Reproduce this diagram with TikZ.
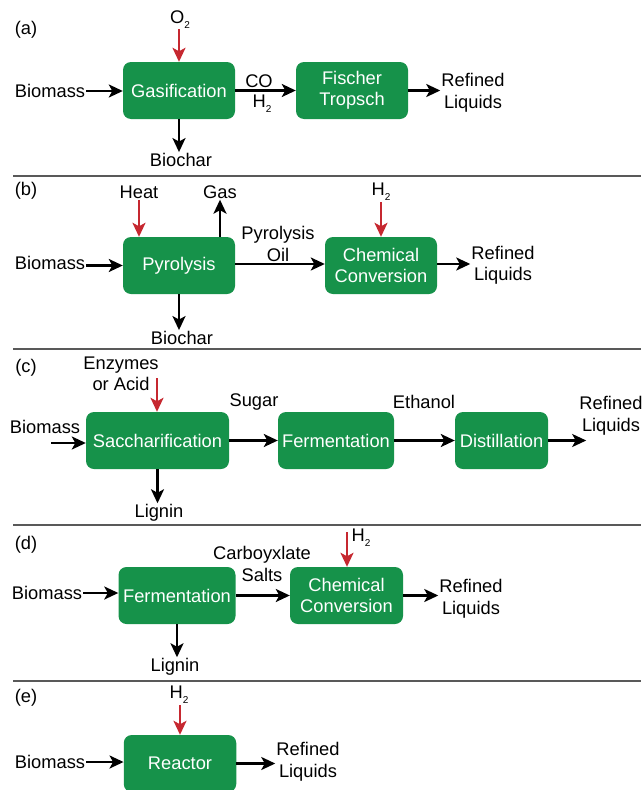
\documentclass[tikz,border=0pt]{standalone}
\usepackage{fontspec}
\setmainfont{Liberation Sans}
\usetikzlibrary{arrows.meta,positioning}

\definecolor{stagegreen}{RGB}{22,146,74}
\definecolor{feedred}{RGB}{198,40,48}
\newcommand{\subtwo}{\raisebox{-5pt}{\fontsize{10}{10}\selectfont 2}}

\begin{document}
\begin{tikzpicture}[
  x=1pt,y=-1pt,
  font=\fontsize{18.3}{21.5}\selectfont,
  >={Stealth[length=14pt,width=13pt,inset=3.5pt]},
  stage/.style={fill=stagegreen,rounded corners=8pt,text=white,
                minimum height=57pt,align=center,inner sep=0pt},
  lbl/.style={align=center,inner sep=1pt},
  flow/.style={->,line width=2.3pt},
  feed/.style={->,line width=2.3pt,draw=feedred},
  divider/.style={line width=1.4pt,draw=black!65},
]
\useasboundingbox (0,0) rectangle (641,790);

% ---- (a) gasification + Fischer Tropsch ----
\node[lbl] (tagA) at (26,30) {(a)};
\node[lbl] (o2a) at (180,20) {O\subtwo};
\node[stage,minimum width=112pt] (gasif) at (179,90.5) {Gasification};
\node[stage,minimum width=112pt] (fischer) at (352,90.5) {Fischer\\Tropsch};
\node[lbl] (bioA) at (50,91) {Biomass};
\node[lbl] (coA) at (259,81) {CO};
\node[lbl] (h2A) at (262,104) {H\subtwo};
\node[lbl] (liqA) at (473,93) {Refined\\Liquids};
\node[lbl] (charA) at (181,160) {Biochar};
\coordinate (sepA) at (13,176);

\draw[feed] (gasif.north |- 0,29) -- (gasif.north);
\draw[flow] (bioA.east) -- (bioA.east -| gasif.west);
\draw[flow] (gasif.east) -- (fischer.west);
\draw[flow] (fischer.east) -- (liqA.west |- fischer.east);
\draw[flow] (gasif.south) -- (gasif.south |- charA.north);
\draw[divider] (sepA) -- (sepA -| 641,0);

% ---- (b) pyrolysis ----
\node[lbl] (tagB) at (26,191) {(b)};
\node[lbl] (heatB) at (139,192) {Heat};
\node[lbl] (gasB) at (220,192) {Gas};
\node[stage,minimum width=112pt] (pyro) at (179,265.5) {Pyrolysis};
\node[stage,minimum width=112pt] (chemB) at (381,265.5) {Chemical\\Conversion};
\node[lbl] (bioB) at (50,263) {Biomass};
\node[lbl] (oilB) at (278,244) {Pyrolysis\\Oil};
\node[lbl] (h2B) at (381,192) {H\subtwo};
\node[lbl] (liqB) at (503,265.5) {Refined\\Liquids};
\node[lbl] (charB) at (182,338) {Biochar};
\coordinate (sepB) at (13,349);

\draw[feed] (heatB.south) -- (heatB.south |- pyro.north);
\draw[flow] (gasB.south |- pyro.north) -- (gasB.south);
\draw[feed] (chemB.north |- h2B.south) -- (chemB.north);
\draw[flow] (bioB.east |- pyro.west) -- (pyro.west);
\draw[flow] ([yshift=1.5pt]pyro.east) -- ([yshift=1.5pt]chemB.west);
\draw[flow] ([yshift=1.5pt]chemB.east) -- ([yshift=1.5pt]liqB.west |- chemB.east);
\draw[flow] (pyro.south) -- (pyro.south |- charB.north);
\draw[divider] (sepB) -- (sepB -| 641,0);

% ---- (c) saccharification, fermentation, distillation ----
\node[lbl] (tagC) at (26,368) {(c)};
\node[lbl] (enzC) at (121,374) {Enzymes\\or Acid};
\node[stage,minimum width=143pt] (sacch) at (157.5,440.5) {Saccharification};
\node[stage,minimum width=116pt] (fermC) at (336,440.5) {Fermentation};
\node[stage,minimum width=93pt] (distil) at (501.5,440.5) {Distillation};
\node[lbl] (bioC) at (45,427) {Biomass};
\node[lbl] (sugarC) at (254,402) {Sugar};
\node[lbl] (ethC) at (424,402) {Ethanol};
\node[lbl] (liqC) at (611,416) {Refined\\Liquids};
\node[lbl] (lignC) at (159,513) {Lignin};
\coordinate (acidtop) at (157,378);
\coordinate (bioCin) at (51,443);
\coordinate (sepC) at (13,525);

\draw[feed] (acidtop) -- (acidtop |- sacch.north);
\draw[flow] (bioCin) -- (bioCin -| sacch.west);
\draw[flow] (sacch.east) -- (fermC.west);
\draw[flow] (fermC.east) -- (distil.west);
\draw[flow] (distil.east) -- ++(38,0);
\draw[flow] (sacch.south) -- (sacch.south |- lignC.north);
\draw[divider] (sepC) -- (sepC -| 641,0);

% ---- (d) fermentation to carboxylate salts ----
\node[lbl] (tagD) at (26,545) {(d)};
\node[stage,minimum width=117pt] (fermD) at (177,595.5) {Fermentation};
\node[stage,minimum width=113pt] (chemD) at (346.5,595.5) {Chemical\\Conversion};
\node[lbl] (bioD) at (47,593) {Biomass};
\node[lbl] (saltD) at (262,564) {Carboyxlate\\Salts};
\node[lbl] (h2D) at (361,538) {H\subtwo};
\node[lbl] (liqD) at (471,599) {Refined\\Liquids};
\node[lbl] (lignD) at (175,667) {Lignin};
\coordinate (h2Dtop) at (347,532);
\coordinate (sepD) at (13,681);

\draw[feed] (h2Dtop) -- (h2Dtop |- chemD.north);
\draw[flow] (bioD.east) -- (bioD.east -| fermD.west);
\draw[flow] (fermD.east) -- (chemD.west);
\draw[flow] (chemD.east) -- (chemD.east -| liqD.west);
\draw[flow] (fermD.south) -- (fermD.south |- lignD.north);
\draw[divider] (sepD) -- (sepD -| 641,0);

% ---- (e) single reactor ----
\node[lbl] (tagE) at (26,698) {(e)};
\node[lbl] (h2E) at (179,695) {H\subtwo};
\node[stage,minimum width=112.5pt] (reactor) at (180,763.5) {Reactor};
\node[lbl] (bioE) at (50,762) {Biomass};
\node[lbl] (liqE) at (308,762) {Refined\\Liquids};

\draw[feed] (reactor.north |- h2E.south) -- (reactor.north);
\draw[flow] (bioE.east) -- (bioE.east -| reactor.west);
\draw[flow] (reactor.east) -- (reactor.east -| liqE.west);

\end{tikzpicture}
\end{document}
